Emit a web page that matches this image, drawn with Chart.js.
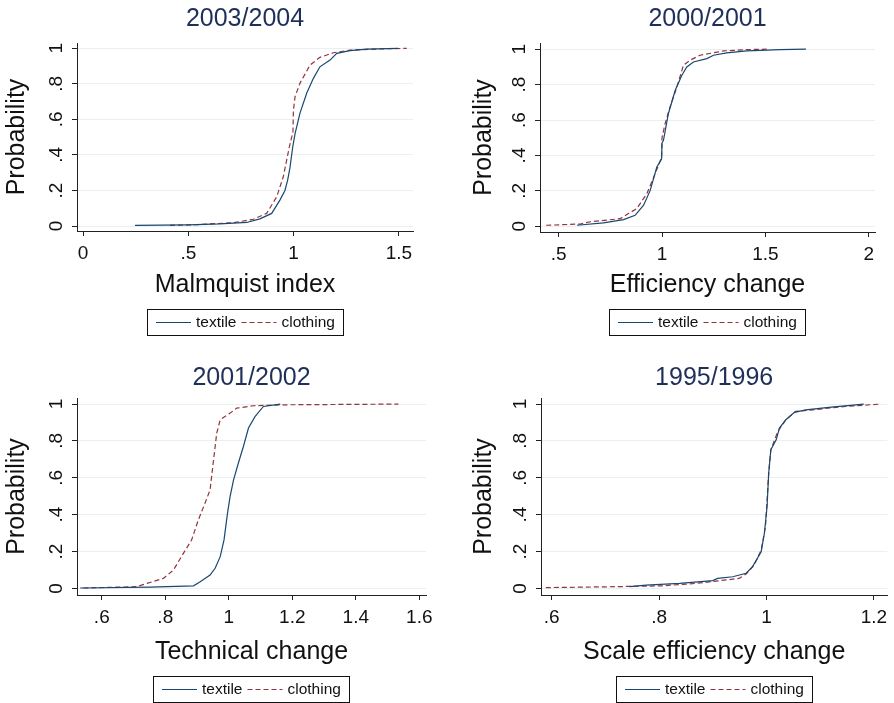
<!DOCTYPE html>
<html>
<head>
<meta charset="utf-8">
<script src="https://cdn.jsdelivr.net/npm/chart.js@4"></script>
<style>
  body { margin: 0; background: #fff; }
  #wrap { position: relative; width: 894px; height: 703px; overflow: hidden; }
  #wrap canvas { position: absolute; }
</style>
</head>
<body>
<div id="wrap">
  <canvas id="c1" width="447" height="340" style="left:0;top:0"></canvas>
  <canvas id="c2" width="447" height="340" style="left:447px;top:0"></canvas>
  <canvas id="c3" width="447" height="363" style="left:0;top:340px"></canvas>
  <canvas id="c4" width="447" height="363" style="left:447px;top:340px"></canvas>
</div>
<script>
// cumulative distributions
const seriesNames = ['textile', 'clothing'];

const malmTextileX = [0.247, 0.5, 0.65, 0.777, 0.84, 0.896, 0.935, 0.959, 0.972, 0.983, 0.996, 1.007, 1.03, 1.062, 1.094, 1.125, 1.173, 1.205, 1.268, 1.347, 1.497];
const malmTextileP = [0.004, 0.007, 0.012, 0.02, 0.04, 0.071, 0.146, 0.2, 0.26, 0.33, 0.446, 0.52, 0.634, 0.747, 0.831, 0.896, 0.934, 0.972, 0.987, 0.995, 1.0];
const malmClothingX = [0.413, 0.55, 0.714, 0.809, 0.872, 0.92, 0.951, 0.98, 0.997, 0.999, 1.007, 1.03, 1.078, 1.125, 1.188, 1.268, 1.426, 1.537];
const malmClothingP = [0.004, 0.008, 0.019, 0.038, 0.071, 0.165, 0.277, 0.446, 0.53, 0.65, 0.728, 0.803, 0.906, 0.949, 0.975, 0.99, 0.997, 1.0];

const effTextileX = [0.589, 0.717, 0.814, 0.87, 0.911, 0.943, 0.975, 0.998, 1.0, 1.007, 1.031, 1.064, 1.096, 1.12, 1.152, 1.217, 1.249, 1.313, 1.41, 1.571, 1.696];
const effTextileP = [0.006, 0.019, 0.038, 0.062, 0.119, 0.203, 0.335, 0.38, 0.47, 0.486, 0.637, 0.768, 0.853, 0.9, 0.928, 0.947, 0.966, 0.979, 0.99, 0.998, 1.0];
const effClothingX = [0.44, 0.605, 0.653, 0.798, 0.838, 0.878, 0.927, 0.967, 0.998, 1.0, 1.015, 1.039, 1.072, 1.104, 1.136, 1.184, 1.297, 1.41, 1.506];
const effClothingP = [0.006, 0.013, 0.026, 0.043, 0.072, 0.1, 0.185, 0.298, 0.39, 0.5, 0.58, 0.674, 0.787, 0.91, 0.938, 0.966, 0.99, 0.998, 1.0];

const techTextileX = [0.532, 0.752, 0.889, 0.91, 0.941, 0.957, 0.973, 0.985, 0.996, 1.004, 1.015, 1.03, 1.046, 1.062, 1.083, 1.109, 1.162];
const techTextileP = [0.002, 0.007, 0.014, 0.036, 0.072, 0.109, 0.172, 0.263, 0.408, 0.498, 0.589, 0.679, 0.77, 0.87, 0.933, 0.987, 1.0];
const techClothingX = [0.542, 0.71, 0.742, 0.794, 0.826, 0.857, 0.883, 0.904, 0.925, 0.941, 0.952, 0.962, 0.973, 1.004, 1.025, 1.078, 1.172, 1.534];
const techClothingP = [0.002, 0.009, 0.027, 0.054, 0.1, 0.19, 0.263, 0.371, 0.462, 0.534, 0.697, 0.842, 0.915, 0.951, 0.978, 0.991, 0.996, 1.0];

const scaleTextileX = [0.745, 0.776, 0.838, 0.9, 0.909, 0.937, 0.962, 0.974, 0.99, 0.996, 1.001, 1.004, 1.008, 1.018, 1.024, 1.036, 1.052, 1.073, 1.116, 1.181];
const scaleTextileP = [0.009, 0.018, 0.027, 0.042, 0.054, 0.063, 0.082, 0.118, 0.199, 0.299, 0.444, 0.625, 0.752, 0.806, 0.87, 0.915, 0.955, 0.969, 0.982, 1.0];
const scaleClothingX = [0.589, 0.714, 0.807, 0.869, 0.949, 0.962, 0.977, 0.99, 0.998, 1.001, 1.004, 1.008, 1.021, 1.036, 1.054, 1.086, 1.147, 1.212];
const scaleClothingP = [0.004, 0.009, 0.014, 0.027, 0.054, 0.078, 0.127, 0.208, 0.335, 0.48, 0.625, 0.752, 0.851, 0.915, 0.96, 0.969, 0.987, 1.0];

// tick values and labels
const probTicks = [0, 0.2, 0.4, 0.6, 0.8, 1];
const probLabels = ['0', '.2', '.4', '.6', '.8', '1'];
const malmTicks = [0, 0.5, 1, 1.5];
const malmLabels = ['0', '.5', '1', '1.5'];
const effTicks = [0.5, 1, 1.5, 2];
const effLabels = ['.5', '1', '1.5', '2'];
const techTicks = [0.6, 0.8, 1, 1.2, 1.4, 1.6];
const techLabels = ['.6', '.8', '1', '1.2', '1.4', '1.6'];
const scaleTicks = [0.6, 0.8, 1, 1.2];
const scaleLabels = ['.6', '.8', '1', '1.2'];

const FONT = "'Liberation Sans', Arial, Helvetica, sans-serif";
const BIG = 25;              // titles and axis titles
const HALF_LINE = BIG * 1.2 / 2;
const TEXTILE_COLOR = '#1a476f';
const CLOTHING_COLOR = '#90353b';
const AXIS_COLOR = '#222';
const GRID_COLOR = '#e8f0f2';

function toPoints(xs, ps) {
  return xs.map((x, i) => ({ x: x, y: ps[i] }));
}

// boxed legend drawn under the plot, centred on the chart area
const boxLegend = {
  id: 'boxLegend',
  afterDraw(chart, args, opts) {
    const ctx = chart.ctx;
    const area = chart.chartArea;
    ctx.save();
    ctx.font = '15.5px ' + FONT;
    const lineLen = 35, pad = 9, gap = 5, h = 27;
    const items = chart.data.datasets.map(ds => ({
      text: ds.label, color: ds.borderColor, dash: ds.borderDash || [],
      w: ctx.measureText(ds.label).width
    }));
    let total = pad * 2;
    items.forEach((it, i) => { total += lineLen + gap + it.w + (i < items.length - 1 ? gap : 0); });
    const left = Math.round((area.left + area.right) / 2 - total / 2);
    const top = opts.top;
    ctx.fillStyle = '#fff';
    ctx.fillRect(left, top, total, h);
    ctx.strokeStyle = '#111';
    ctx.lineWidth = 1;
    ctx.strokeRect(left + 0.5, top + 0.5, Math.round(total) - 1, h - 1);
    let x = left + pad;
    const cy = top + h / 2;
    items.forEach(it => {
      ctx.beginPath();
      ctx.setLineDash(it.dash);
      ctx.strokeStyle = it.color;
      ctx.lineWidth = 1.2;
      ctx.moveTo(x, cy);
      ctx.lineTo(x + lineLen, cy);
      ctx.stroke();
      ctx.setLineDash([]);
      x += lineLen + gap;
      ctx.fillStyle = '#111';
      ctx.textBaseline = 'middle';
      ctx.textAlign = 'left';
      ctx.fillText(it.text, x, cy);
      x += it.w + gap;
    });
    ctx.restore();
  }
};

function makePanel(id, p) {
  const h = document.getElementById(id).height;
  const xScaleHeight = p.xTitleY + HALF_LINE;
  new Chart(document.getElementById(id), {
    type: 'line',
    data: {
      datasets: [
        {
          label: seriesNames[0],
          data: toPoints(p.textileX, p.textileP),
          borderColor: TEXTILE_COLOR,
          borderWidth: 1.2,
          pointRadius: 0,
          tension: 0,
          fill: false
        },
        {
          label: seriesNames[1],
          data: toPoints(p.clothingX, p.clothingP),
          borderColor: CLOTHING_COLOR,
          borderWidth: 1.2,
          borderDash: [5, 3],
          pointRadius: 0,
          tension: 0,
          fill: false
        }
      ]
    },
    plugins: [boxLegend],
    options: {
      responsive: false,
      animation: false,
      devicePixelRatio: 1,
      layout: {
        padding: { left: 0, top: 0, right: 447 - p.area.right, bottom: h - p.area.bottom - xScaleHeight }
      },
      scales: {
        x: {
          type: 'linear',
          min: p.xMin,
          max: p.xMax,
          afterBuildTicks: s => { s.ticks = p.xTicks.map(v => ({ value: v })); },
          afterFit: s => { s.height = xScaleHeight; },
          ticks: {
            autoSkip: false,
            maxRotation: 0,
            padding: 6.6,
            color: '#111',
            font: { family: FONT, size: 19 },
            callback: (v, i) => p.xLabels[i]
          },
          grid: { drawOnChartArea: false, drawTicks: true, tickLength: 5, tickColor: AXIS_COLOR, tickWidth: 1 },
          border: { color: AXIS_COLOR, width: 1 },
          title: {
            display: true,
            text: p.xTitle,
            color: '#111',
            font: { family: FONT, size: BIG },
            padding: { top: 0, bottom: 0 }
          }
        },
        y: {
          type: 'linear',
          min: p.yMin,
          max: p.yMax,
          afterBuildTicks: s => { s.ticks = probTicks.map(v => ({ value: v })); },
          afterFit: s => { s.width = p.area.left; },
          ticks: {
            minRotation: 90,
            maxRotation: 90,
            crossAlign: 'center',
            padding: 7.4,
            color: '#111',
            font: { family: FONT, size: 19 },
            callback: (v, i) => probLabels[i]
          },
          grid: { color: GRID_COLOR, lineWidth: 1, drawTicks: true, tickLength: 5, tickColor: AXIS_COLOR, tickWidth: 1 },
          border: { color: AXIS_COLOR, width: 1 },
          title: {
            display: true,
            text: 'Probability',
            color: '#111',
            font: { family: FONT, size: BIG },
            padding: { top: p.yTitleX - HALF_LINE, bottom: 0 }
          }
        }
      },
      plugins: {
        legend: { display: false },
        tooltip: { enabled: false },
        boxLegend: { top: p.legendTop },
        title: {
          display: true,
          fullSize: false,
          text: p.title,
          color: '#1e2f5a',
          font: { family: FONT, size: BIG, weight: 'normal' },
          padding: { top: p.titleY - HALF_LINE, bottom: p.area.top - (p.titleY - HALF_LINE) - 2 * HALF_LINE }
        }
      }
    }
  });
}

makePanel('c1', {
  title: '2003/2004', xTitle: 'Malmquist index',
  textileX: malmTextileX, textileP: malmTextileP, clothingX: malmClothingX, clothingP: malmClothingP,
  xTicks: malmTicks, xLabels: malmLabels,
  xMin: -0.0285, xMax: 1.567, yMin: -0.028, yMax: 1.03,
  area: { left: 77, top: 43, right: 413, bottom: 231 },
  titleY: 19, xTitleY: 54, yTitleX: 17.6, legendTop: 309
});

makePanel('c2', {
  title: '2000/2001', xTitle: 'Efficiency change',
  textileX: effTextileX, textileP: effTextileP, clothingX: effClothingX, clothingP: effClothingP,
  xTicks: effTicks, xLabels: effLabels,
  xMin: 0.41, xMax: 2.03, yMin: -0.032, yMax: 1.035,
  area: { left: 93, top: 43, right: 428, bottom: 232 },
  titleY: 19, xTitleY: 53.5, yTitleX: 37.6, legendTop: 309
});

makePanel('c3', {
  title: '2001/2002', xTitle: 'Technical change',
  textileX: techTextileX, textileP: techTextileP, clothingX: techClothingX, clothingP: techClothingP,
  xTicks: techTicks, xLabels: techLabels,
  xMin: 0.522, xMax: 1.621, yMin: -0.036, yMax: 1.033,
  area: { left: 77, top: 58, right: 426, bottom: 255 },
  titleY: 38.3, xTitleY: 57.2, yTitleX: 17.6, legendTop: 336
});

makePanel('c4', {
  title: '1995/1996', xTitle: 'Scale efficiency change',
  textileX: scaleTextileX, textileP: scaleTextileP, clothingX: scaleClothingX, clothingP: scaleClothingP,
  xTicks: scaleTicks, xLabels: scaleLabels,
  xMin: 0.58, xMax: 1.225, yMin: -0.036, yMax: 1.033,
  area: { left: 94, top: 58, right: 442, bottom: 255 },
  titleY: 38.3, xTitleY: 57.2, yTitleX: 37.6, legendTop: 336
});
</script>
</body>
</html>
